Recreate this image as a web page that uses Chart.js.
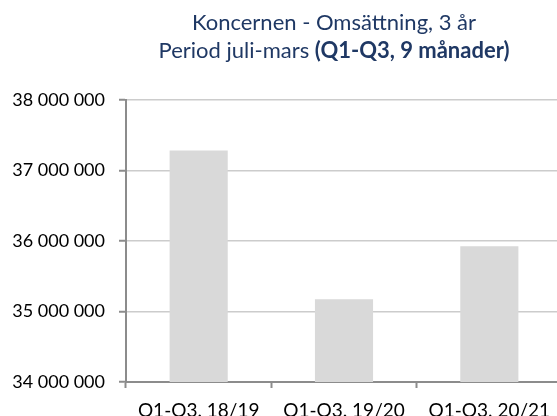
<!DOCTYPE html>
<html>
<head>
<meta charset="utf-8">
<script src="https://cdn.jsdelivr.net/npm/chart.js@4.4.0/dist/chart.umd.min.js"></script>
<style>
    html, body { margin: 0; padding: 0; background: #fff; }
    #wrap { position: relative; width: 557px; height: 416px; overflow: hidden; background: #fff; }
    #title {
        position: absolute; left: 134px; top: 8px; width: 400px;
        text-align: center; color: #1f3864;
        font: 22px Lato, sans-serif; line-height: 28px;
        white-space: nowrap;
    }
    #chartBox { position: absolute; left: 0; top: 0; width: 562px; height: 430px; }
</style>
</head>
<body>
<div id="wrap">
    <div id="chartBox"><canvas id="salesChart" width="562" height="430"></canvas></div>
    <div id="title">Koncernen - Omsättning, 3 år<br>Period juli-mars <b>(Q1-Q3, 9 månader)</b></div>
</div>
<script>
// Data
const categories = ['Q1-Q3. 18/19', 'Q1-Q3. 19/20', 'Q1-Q3. 20/21'];
const revenue = [37285000, 35175000, 35927000];
const yTickValues = [34000000, 35000000, 36000000, 37000000, 38000000];

// Swedish style thousands separator
function formatNumber(v) {
    return String(Math.round(v)).replace(/\B(?=(\d{3})+(?!\d))/g, ' ');
}

const axisGray = '#8c8c8c';
const gridGray = '#cccccc';

const ctx = document.getElementById('salesChart');
window.salesChart = new Chart(ctx, {
    type: 'bar',
    data: {
        labels: categories,
        datasets: [{
            label: 'Omsättning',
            data: revenue,
            backgroundColor: '#d9d9d9',
            borderWidth: 0,
            barPercentage: 0.4,
            categoryPercentage: 1.0
        }]
    },
    options: {
        responsive: false,
        animation: false,
        layout: {
            padding: { top: 100, left: 0, right: 0, bottom: 0 }
        },
        plugins: {
            legend: { display: false },
            tooltip: { enabled: false },
            title: { display: false }
        },
        scales: {
            x: {
                grid: {
                    drawOnChartArea: false,
                    offset: true,
                    tickColor: axisGray,
                    tickLength: 6,
                    tickWidth: 2
                },
                border: { color: axisGray, width: 2 },
                ticks: {
                    color: '#000',
                    padding: 11,
                    maxRotation: 0,
                    font: { family: 'Lato', size: 19 }
                },
                afterFit: function(scale) {
                    scale.height = 48;
                }
            },
            y: {
                min: yTickValues[0],
                max: yTickValues[yTickValues.length - 1],
                afterBuildTicks: function(scale) {
                    scale.ticks = yTickValues.map(v => ({ value: v }));
                },
                grid: {
                    color: gridGray,
                    lineWidth: 1.5,
                    tickColor: axisGray,
                    tickWidth: 2,
                    tickLength: 7
                },
                border: { color: axisGray, width: 2 },
                ticks: {
                    color: '#000',
                    padding: 14,
                    font: { family: 'Lato', size: 18 },
                    callback: function(value) {
                        return formatNumber(value);
                    }
                },
                afterFit: function(scale) {
                    scale.width = 126;
                }
            }
        }
    }
});
</script>
</body>
</html>
